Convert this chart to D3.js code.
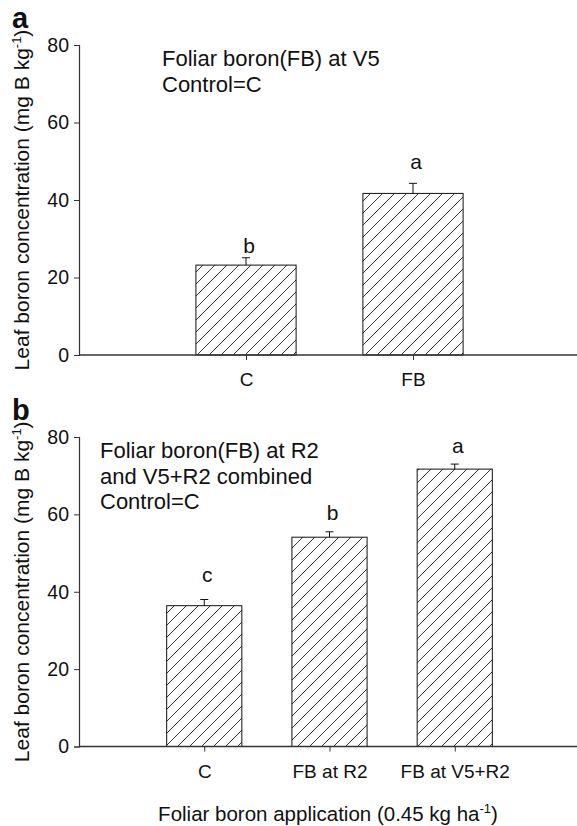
<!DOCTYPE html>
<html>
<head>
<meta charset="utf-8">
<script src="https://cdn.jsdelivr.net/npm/d3@7"></script>
<style>
  body { margin: 0; background: #fff; }
  svg text { font-family: "Liberation Sans", Arial, Helvetica, sans-serif; fill: #111; }
</style>
</head>
<body>
<script>
// panel a: foliar boron at V5
var catsA = ["C", "FB"],
    meansA = [23.2, 41.7],
    errsA = [1.9, 2.6],
    lettersA = ["b", "a"],
    letterAtA = [26.4, 47.9],
    notesA = ["Foliar boron(FB) at V5", "Control=C"];

// panel b: foliar boron at R2 and V5+R2
var catsB = ["C", "FB at R2", "FB at V5+R2"],
    meansB = [36.4, 54.1, 71.7],
    errsB = [1.6, 1.4, 1.3],
    lettersB = ["c", "b", "a"],
    letterAtB = [42.6, 58.6, 75.8],
    notesB = ["Foliar boron(FB) at R2", "and V5+R2 combined", "Control=C"];

var yTicks = [0, 20, 40, 60, 80];

var width = 577, height = 826,
    left = 79, right = 580;

var svg = d3.select("body").append("svg")
    .attr("width", width)
    .attr("height", height);

var defs = svg.append("defs");
var hatch = defs.append("pattern")
    .attr("id", "hatch")
    .attr("patternUnits", "userSpaceOnUse")
    .attr("width", 12)
    .attr("height", 12);
hatch.append("rect").attr("width", 12).attr("height", 12).attr("fill", "#fff");
hatch.append("path")
    .attr("d", "M0,12 L12,0 M-3,3 L3,-3 M9,15 L15,9")
    .attr("stroke", "#222")
    .attr("stroke-width", 0.9);

function panel(opts) {
  var cats = opts.cats;
  var x = d3.scaleLinear().domain([0, cats.length + 1]).range([left, right]);
  var step = x(1) - x(0), bw = step * 0.6;
  var y = d3.scaleLinear().domain([0, 80]).range([opts.bottom, opts.top]);

  var g = svg.append("g");

  // bars
  g.selectAll(".bar")
    .data(cats)
    .enter().append("rect")
      .attr("class", "bar")
      .attr("x", function(d, i) { return x(i + 1) - bw / 2; })
      .attr("y", function(d, i) { return y(opts.means[i]); })
      .attr("width", bw)
      .attr("height", function(d, i) { return y(0) - y(opts.means[i]); })
      .attr("fill", "url(#hatch)")
      .attr("stroke", "#111")
      .attr("stroke-width", 1);

  // error bars (upper only)
  var eb = g.selectAll(".err")
    .data(cats)
    .enter().append("g")
      .attr("class", "err")
      .attr("stroke", "#111")
      .attr("stroke-width", 1);
  eb.append("line")
      .attr("x1", function(d, i) { return x(i + 1); })
      .attr("x2", function(d, i) { return x(i + 1); })
      .attr("y1", function(d, i) { return y(opts.means[i]); })
      .attr("y2", function(d, i) { return y(opts.means[i] + opts.errs[i]); });
  eb.append("line")
      .attr("x1", function(d, i) { return x(i + 1) - 4; })
      .attr("x2", function(d, i) { return x(i + 1) + 4; })
      .attr("y1", function(d, i) { return y(opts.means[i] + opts.errs[i]); })
      .attr("y2", function(d, i) { return y(opts.means[i] + opts.errs[i]); });

  // significance letters
  g.selectAll(".letter")
    .data(opts.letters)
    .enter().append("text")
      .attr("class", "letter")
      .attr("x", function(d, i) { return x(i + 1) + 3; })
      .attr("y", function(d, i) { return y(opts.letterAt[i]); })
      .attr("text-anchor", "middle")
      .style("font-size", "21px")
      .text(function(d) { return d; });

  // y axis
  var ya = g.append("g")
      .attr("transform", "translate(" + left + ",0)")
      .call(d3.axisLeft(y).tickValues(yTicks).tickSize(5).tickPadding(5));
  ya.select(".domain").attr("stroke", "#333").attr("stroke-width", 1.2);
  ya.selectAll(".tick line").attr("stroke", "#333");
  ya.selectAll(".tick text").style("font-size", "19.5px").attr("fill", "#111");

  // x axis
  var xa = g.append("g")
      .attr("transform", "translate(0," + opts.bottom + ")")
      .call(d3.axisBottom(x)
        .tickValues(d3.range(1, cats.length + 1))
        .tickFormat(function(d) { return cats[d - 1]; })
        .tickSize(5).tickSizeOuter(0).tickPadding(13));
  xa.select(".domain").attr("stroke", "#333").attr("stroke-width", 1.6)
      .attr("d", "M" + left + ",0H" + width);
  xa.selectAll(".tick line").attr("stroke", "#333");
  xa.selectAll(".tick text").style("font-size", "19px").attr("fill", "#111");

  // panel letter
  g.append("text")
      .attr("x", 12)
      .attr("y", opts.labelY)
      .style("font-size", "29px")
      .style("font-weight", "bold")
      .text(opts.label);

  // y axis title
  var yt = g.append("text")
      .attr("transform", "translate(29," + (opts.top + opts.bottom) / 2 + ") rotate(-90)")
      .attr("text-anchor", "middle")
      .style("font-size", "21px");
  yt.append("tspan").text("Leaf boron concentration (mg B kg");
  yt.append("tspan").attr("dy", -8).style("font-size", "13px").text("-1");
  yt.append("tspan").attr("dy", 8).text(")");

  // notes
  g.append("text")
      .attr("x", opts.noteX)
      .attr("y", opts.noteY)
      .style("font-size", "22px")
    .selectAll("tspan")
    .data(opts.notes)
    .enter().append("tspan")
      .attr("x", opts.noteX)
      .attr("dy", function(d, i) { return i ? opts.noteGap : 0; })
      .text(function(d) { return d; });
}

panel({
  cats: catsA, means: meansA, errs: errsA, letters: lettersA, letterAt: letterAtA,
  notes: notesA, top: 45, bottom: 355, label: "a", labelY: 28,
  noteX: 162, noteY: 66, noteGap: 26
});

panel({
  cats: catsB, means: meansB, errs: errsB, letters: lettersB, letterAt: letterAtB,
  notes: notesB, top: 437, bottom: 746.5, label: "b", labelY: 420,
  noteX: 100, noteY: 458, noteGap: 25.5
});

// x axis title
var xt = svg.append("text")
    .attr("x", (left + width) / 2)
    .attr("y", 821)
    .attr("text-anchor", "middle")
    .style("font-size", "20.5px");
xt.append("tspan").text("Foliar boron application (0.45 kg ha");
xt.append("tspan").attr("dy", -8).style("font-size", "13px").text("-1");
xt.append("tspan").attr("dy", 8).text(")");
</script>
</body>
</html>
